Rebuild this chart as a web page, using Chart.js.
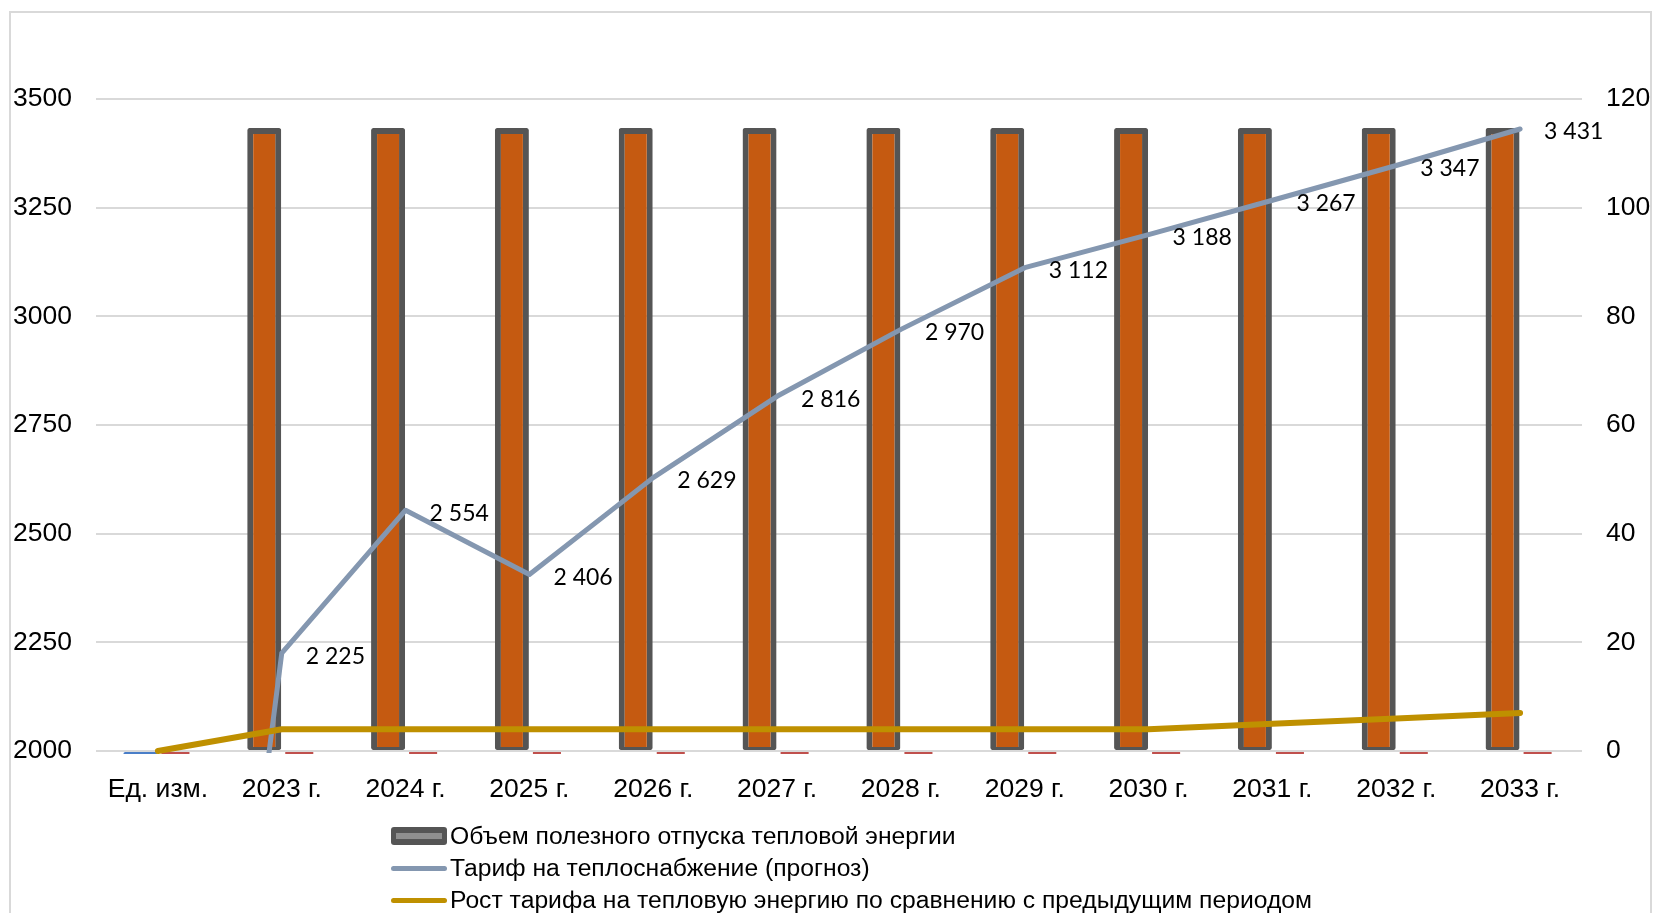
<!DOCTYPE html>
<html lang="ru">
<head>
<meta charset="utf-8">
<title>Тариф на теплоснабжение</title>
<script src="https://cdn.jsdelivr.net/npm/chart.js@4.4.0/dist/chart.umd.min.js"></script>
<style>
  html, body { margin: 0; padding: 0; background: #fff; width: 1654px; height: 913px; overflow: hidden; }
  #frame { position: absolute; left: 9px; top: 11px; width: 1643px; height: 940px; border: 2px solid #d9d9d9; box-sizing: border-box; }
  #chart { position: absolute; left: 0; top: 0; }
  #legend { position: absolute; left: 391px; top: 820px; font: 24.7px "Liberation Sans", Arial, sans-serif; color: #000; }
  .row { height: 32px; display: flex; align-items: center; white-space: nowrap; }
  .mk { width: 56px; margin-right: 3px; flex: none; position: relative; }
  .mk.bar { height: 18px; background: #555555; border-radius: 3px; }
  .mk.bar::after { content: ""; position: absolute; left: 5px; right: 5px; top: 6px; height: 6px; background: #8f8f8f; }
  .mk.line { height: 5px; border-radius: 3px; }
</style>
</head>
<body>
<div id="frame"></div>
<canvas id="chart" width="1654" height="913"></canvas>
<div id="legend"></div>
<script>
// Categories along the x axis
const categories = ['Ед. изм.', '2023 г.', '2024 г.', '2025 г.', '2026 г.', '2027 г.',
                    '2028 г.', '2029 г.', '2030 г.', '2031 г.', '2032 г.', '2033 г.'];

// Useful heat supply volume (left axis)
const volume = [0, 3433, 3433, 3433, 3433, 3433, 3433, 3433, 3433, 3433, 3433, 3433];
// Second column series, empty for every period
const secondSeries = [0, 0, 0, 0, 0, 0, 0, 0, 0, 0, 0, 0];
// Heat supply tariff forecast (left axis)
const tariff = [0, 2225, 2554, 2406, 2629, 2816, 2970, 3112, 3188, 3267, 3347, 3431];
// Tariff growth versus the previous period (right axis)
const growth = [0, 4, 4, 4, 4, 4, 4, 4, 4, 5, 6, 7];

// Tick values of both value axes
const leftTicks = [2000, 2250, 2500, 2750, 3000, 3250, 3500];
const rightTicks = [0, 20, 40, 60, 80, 100, 120];

const seriesNames = {
  volume: 'Объем полезного отпуска тепловой энергии',
  tariff: 'Тариф на теплоснабжение (прогноз)',
  growth: 'Рост тарифа на тепловую энергию по сравнению с предыдущим периодом'
};

const FONT = '"Liberation Sans", Arial, sans-serif';
Chart.defaults.font.family = FONT;
Chart.defaults.color = '#000';

const GRID = '#d9d9d9';
const leftMin = leftTicks[0];
const TICK_SIZE = 26.5;

// Thousands grouped with a space: 2225 -> "2 225"
const groupDigits = v => String(v).replace(/\B(?=(\d{3})+(?!\d))/g, ' ');

// Value labels to the right of each tariff point
const tariffLabels = {
  id: 'tariffLabels',
  afterDatasetsDraw(chart) {
    const idx = chart.data.datasets.findIndex(d => d.label === seriesNames.tariff);
    const meta = chart.getDatasetMeta(idx);
    const ctx = chart.ctx;
    ctx.save();
    ctx.font = '23px Lato, "Liberation Sans", sans-serif';
    ctx.fillStyle = '#000';
    ctx.textAlign = 'left';
    ctx.textBaseline = 'middle';
    meta.data.forEach((pt, i) => {
      const v = tariff[i];
      if (v < leftMin) return;
      ctx.fillText(groupDigits(v), pt.x + 24, pt.y + 3);
    });
    ctx.restore();
  }
};

// Columns start at the axis floor; anything below it shows only as a thin stub
const barClip = { left: false, right: false, top: false, bottom: 3 };

new Chart(document.getElementById('chart'), {
  data: {
    labels: categories,
    datasets: [
      {
        type: 'line',
        label: seriesNames.growth,
        data: growth,
        yAxisID: 'y1',
        borderColor: '#BF9000',
        borderWidth: 6,
        borderCapStyle: 'round',
        borderJoinStyle: 'round',
        pointRadius: 0,
        tension: 0,
        clip: false,
        order: 0
      },
      {
        type: 'line',
        label: seriesNames.tariff,
        data: tariff,
        yAxisID: 'y',
        borderColor: '#8497B0',
        borderWidth: 5,
        borderCapStyle: 'round',
        borderJoinStyle: 'round',
        pointRadius: 0,
        tension: 0,
        clip: { left: false, right: false, top: false, bottom: 2 },
        order: 1
      },
      {
        type: 'bar',
        label: seriesNames.volume,
        data: volume,
        yAxisID: 'y',
        base: leftMin,
        backgroundColor: c => (c.raw < leftMin ? '#4A7EC8' : '#C55A11'),
        borderColor: '#555555',
        borderWidth: c => (c.raw < leftMin ? 0 : { top: 6, left: 6, right: 6, bottom: 3 }),
        borderSkipped: false,
        borderRadius: 2,
        barPercentage: 0.97,
        categoryPercentage: 0.566,
        clip: barClip,
        order: 2
      },
      {
        type: 'bar',
        label: '',
        data: secondSeries,
        yAxisID: 'y',
        base: leftMin,
        backgroundColor: '#C0504D',
        borderWidth: 0,
        barPercentage: 0.8,
        categoryPercentage: 0.566,
        clip: barClip,
        order: 3
      }
    ]
  },
  options: {
    responsive: false,
    animation: false,
    devicePixelRatio: 1,
    layout: { padding: { top: 99, left: 0, right: 0, bottom: 0 } },
    plugins: { legend: { display: false }, tooltip: { enabled: false } },
    scales: {
      x: {
        offset: true,
        grid: { display: false },
        border: { display: false },
        ticks: { font: { size: TICK_SIZE }, color: '#000', padding: 15, maxRotation: 0, autoSkip: false },
        afterFit: s => { s.height = 162; }
      },
      y: {
        position: 'left',
        min: leftTicks[0],
        max: leftTicks[leftTicks.length - 1],
        afterBuildTicks: s => { s.ticks = leftTicks.map(v => ({ value: v })); },
        grid: { color: GRID, lineWidth: 2, drawTicks: false },
        border: { display: false },
        ticks: { font: { size: TICK_SIZE }, color: '#000', padding: 24, callback: v => String(v) },
        afterFit: s => { s.width = 96; }
      },
      y1: {
        position: 'right',
        min: rightTicks[0],
        max: rightTicks[rightTicks.length - 1],
        afterBuildTicks: s => { s.ticks = rightTicks.map(v => ({ value: v })); },
        grid: { drawOnChartArea: false, drawTicks: false },
        border: { display: false },
        ticks: { font: { size: TICK_SIZE }, color: '#000', padding: 24, callback: v => String(v) },
        afterFit: s => { s.width = 72; }
      }
    }
  },
  plugins: [tariffLabels]
});

// Legend: one entry per row
const legendItems = [
  { name: seriesNames.volume, kind: 'bar' },
  { name: seriesNames.tariff, kind: 'line', color: '#8497B0' },
  { name: seriesNames.growth, kind: 'line', color: '#BF9000' }
];
const legend = document.getElementById('legend');
legendItems.forEach(it => {
  const row = document.createElement('div');
  row.className = 'row';
  const mk = document.createElement('span');
  mk.className = 'mk ' + it.kind;
  if (it.color) mk.style.background = it.color;
  const txt = document.createElement('span');
  txt.textContent = it.name;
  row.appendChild(mk);
  row.appendChild(txt);
  legend.appendChild(row);
});
</script>
</body>
</html>
